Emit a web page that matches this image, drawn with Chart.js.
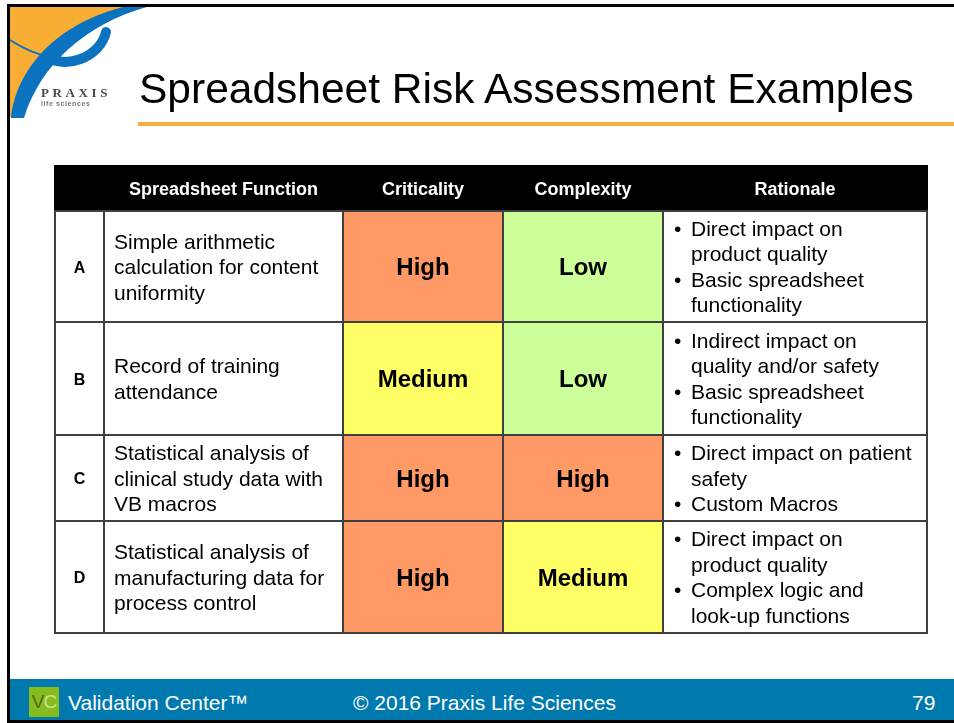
<!DOCTYPE html>
<html>
<head>
<meta charset="utf-8">
<title>Spreadsheet Risk Assessment Examples</title>
<script src="https://cdn.jsdelivr.net/npm/chart.js@4.4.1/dist/chart.umd.min.js"></script>
<style>
  html, body { margin: 0; padding: 0; background: #fff; }
  body { width: 954px; height: 723px; position: relative; overflow: hidden; font-family: "Liberation Sans", Arial, sans-serif; }
  #slide { position: absolute; left: 0; top: 0; }
  .frameTop { position: absolute; left: 7px; top: 4px; width: 947px; height: 3px; background: #000; }
  .frameLeft { position: absolute; left: 7px; top: 4px; width: 3px; height: 719px; background: #000; }
  .frameBottom { position: absolute; left: 7px; top: 720px; width: 947px; height: 3px; background: #000; }
  #logo { position: absolute; left: 0; top: 0; }
  #title { position: absolute; left: 139px; top: 64px; font-size: 42.5px; line-height: 50px; color: #000; white-space: nowrap; }
  .rule { position: absolute; left: 138px; top: 122px; width: 816px; height: 4px; background: #F5AE3A; }
  #footer { position: absolute; left: 10px; top: 679px; width: 944px; height: 41px; background: #0079AF; color: #fff; font-size: 21px; }
  #footer span { position: absolute; top: 12px; line-height: 24px; white-space: nowrap; }
  .vc { position: absolute; left: 19px; top: 8px; width: 30px; height: 30px; background: #86BC1F; font-size: 19px; line-height: 30px; text-align: center; letter-spacing: -1px; }
</style>
</head>
<body>
<canvas id="slide" width="954" height="723"></canvas>

<svg id="logo" width="160" height="130" viewBox="0 0 160 130">
  <path d="M10 7 L128 7 C60 24 20 70 12 117 L10 117 Z" fill="#F8AE35"/>
  <path d="M11 118 C16 70 56 22 128 6 L150 6 C84 24 40 66 24 118 Z" fill="#0A72BE"/>
  <path d="M10 40 Q30 53 50 57" stroke="#0A72BE" stroke-width="2" fill="none"/>
  <path d="M46 56 C64 70 100 58 106 32" stroke="#0A72BE" stroke-width="10" fill="none" stroke-linecap="round"/>
  <text x="41" y="97" font-family="Liberation Serif, serif" font-weight="bold" font-size="13" letter-spacing="3.6" fill="#4a4a4a">PRAXIS</text>
  <text x="41" y="106" font-family="Liberation Sans, sans-serif" font-weight="bold" font-size="7" letter-spacing="0.6" fill="#777">life sciences</text>
</svg>

<div class="frameTop"></div>
<div class="frameLeft"></div>
<div class="frameBottom"></div>
<div id="title">Spreadsheet Risk Assessment Examples</div>
<div class="rule"></div>
<div id="footer">
  <div class="vc"><span style="position:static;color:#4E6E12">V</span><span style="position:static;color:#C9E58E">C</span></div>
  <span style="left:58px">Validation Center™</span>
  <span style="left:343px">© 2016 Praxis Life Sciences</span>
  <span style="left:902px">79</span>
</div>

<script>
// table content
const headers = ['', 'Spreadsheet Function', 'Criticality', 'Complexity', 'Rationale'];
const rowIds = ['A', 'B', 'C', 'D'];
const functions = [
  ['Simple arithmetic', 'calculation for content', 'uniformity'],
  ['Record of training', 'attendance'],
  ['Statistical analysis of', 'clinical study data with', 'VB macros'],
  ['Statistical analysis of', 'manufacturing data for', 'process control']
];
const criticality = ['High', 'Medium', 'High', 'High'];
const complexity = ['Low', 'Low', 'High', 'Medium'];
const rationale = [
  [['Direct impact on', 'product quality'], ['Basic spreadsheet', 'functionality']],
  [['Indirect impact on', 'quality and/or safety'], ['Basic spreadsheet', 'functionality']],
  [['Direct impact on patient', 'safety'], ['Custom Macros']],
  [['Direct impact on', 'product quality'], ['Complex logic and', 'look-up functions']]
];

// layout of the grid, in table units
const colEdges = [0, 49, 288, 448, 608, 872];
const rowEdges = [0, 46, 157, 270, 356, 468];

const levelColors = { High: '#FF9966', Medium: '#FFFF66', Low: '#CCFF99' };
const FONT = '"Liberation Sans", Arial, sans-serif';

function textLines(ctx, lines, x, cy, size, lh) {
  const n = lines.length;
  lines.forEach(function (t, i) {
    ctx.fillText(t, x, cy + (i - (n - 1) / 2) * lh + 0.36 * size);
  });
}

const tablePlugin = {
  id: 'riskTable',
  afterDraw: function (chart) {
    const ctx = chart.ctx;
    const sx = chart.scales.x, sy = chart.scales.y;
    const X = function (i) { return Math.round(sx.getPixelForValue(colEdges[i])); };
    const Y = function (j) { return Math.round(sy.getPixelForValue(rowEdges[j])); };
    ctx.save();

    // header band
    ctx.fillStyle = '#000';
    ctx.fillRect(X(0) - 1, Y(0), X(5) - X(0) + 2, Y(1) - Y(0));
    ctx.fillStyle = '#fff';
    ctx.font = 'bold 18px ' + FONT;
    ctx.textAlign = 'center';
    headers.forEach(function (h, c) {
      if (!h) return;
      ctx.fillText(h, (X(c) + X(c + 1)) / 2, (Y(0) + Y(1)) / 2 + 6.5);
    });

    rowIds.forEach(function (id, r) {
      const top = Y(r + 1), bot = Y(r + 2), cy = (top + bot) / 2;
      // fills
      ctx.fillStyle = '#fff';
      ctx.fillRect(X(0), top, X(2) - X(0), bot - top);
      ctx.fillRect(X(4), top, X(5) - X(4), bot - top);
      ctx.fillStyle = levelColors[criticality[r]];
      ctx.fillRect(X(2), top, X(3) - X(2), bot - top);
      ctx.fillStyle = levelColors[complexity[r]];
      ctx.fillRect(X(3), top, X(4) - X(3), bot - top);

      ctx.fillStyle = '#000';
      ctx.textAlign = 'center';
      ctx.font = 'bold 16px ' + FONT;
      ctx.fillText(id, (X(0) + X(1)) / 2, cy + 6);

      ctx.font = 'bold 24px ' + FONT;
      ctx.fillText(criticality[r], (X(2) + X(3)) / 2, cy + 8.6);
      ctx.fillText(complexity[r], (X(3) + X(4)) / 2, cy + 8.6);

      ctx.textAlign = 'left';
      ctx.font = '21px ' + FONT;
      textLines(ctx, functions[r], X(1) + 10, cy, 21, 25.5);

      const lines = [], bullets = [];
      rationale[r].forEach(function (item) {
        item.forEach(function (t, k) { lines.push(t); bullets.push(k === 0); });
      });
      const n = lines.length;
      lines.forEach(function (t, i) {
        const base = cy + (i - (n - 1) / 2) * 25.5 + 0.36 * 21;
        if (bullets[i]) ctx.fillText('•', X(4) + 11, base);
        ctx.fillText(t, X(4) + 28, base);
      });
    });

    // grid lines
    ctx.strokeStyle = '#3F3F3F';
    ctx.lineWidth = 2;
    ctx.beginPath();
    for (let j = 1; j < rowEdges.length; j++) {
      ctx.moveTo(X(0) - 1, Y(j));
      ctx.lineTo(X(5) + 1, Y(j));
    }
    for (let i = 0; i < colEdges.length; i++) {
      ctx.moveTo(X(i), Y(1));
      ctx.lineTo(X(i), Y(rowEdges.length - 1));
    }
    ctx.stroke();
    ctx.restore();
  }
};

new Chart(document.getElementById('slide').getContext('2d'), {
  type: 'scatter',
  data: { datasets: [] },
  options: {
    responsive: false,
    animation: false,
    devicePixelRatio: 1,
    layout: { padding: { left: 55, top: 165, right: 27, bottom: 90 } },
    plugins: { legend: { display: false }, tooltip: { enabled: false } },
    scales: {
      x: { type: 'linear', min: colEdges[0], max: colEdges[colEdges.length - 1], display: false },
      y: { type: 'linear', min: rowEdges[0], max: rowEdges[rowEdges.length - 1], reverse: true, display: false }
    }
  },
  plugins: [tablePlugin]
});
</script>
</body>
</html>
